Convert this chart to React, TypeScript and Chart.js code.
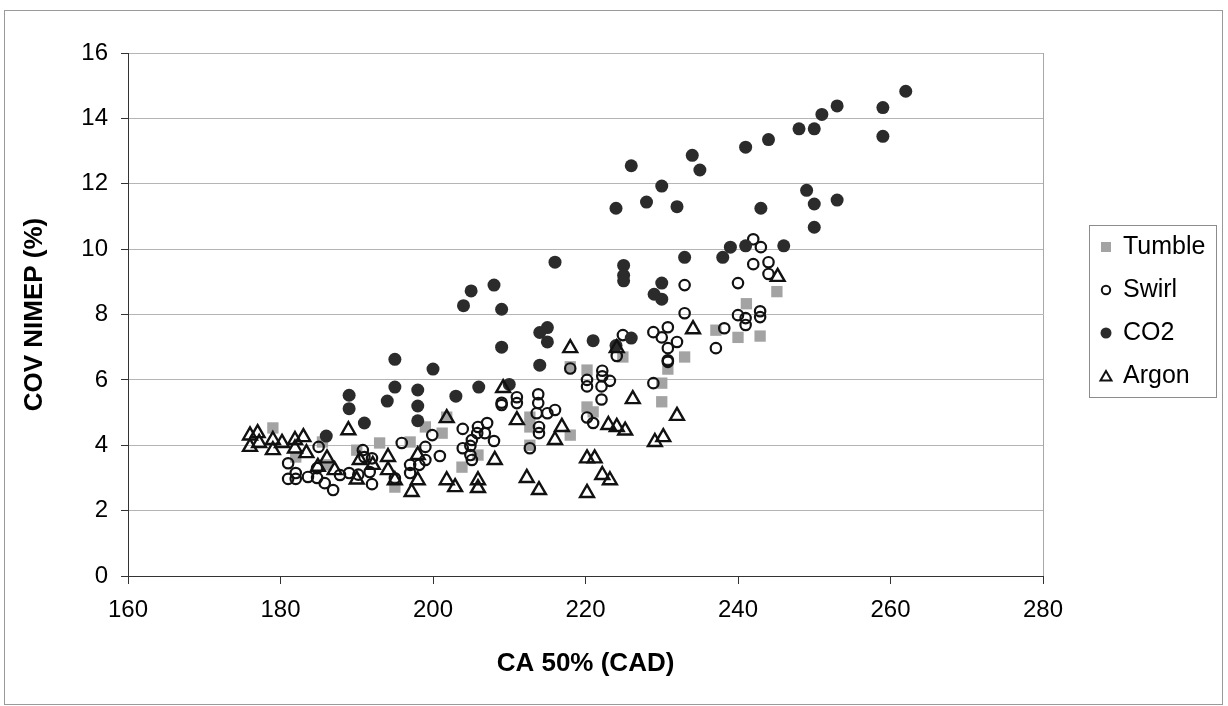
import React, { useEffect, useRef } from "react";
import { Chart, registerables } from "chart.js";

Chart.register(...registerables);

const FONT = '"Liberation Sans", Arial, sans-serif';

const seriesNames = ["Tumble", "Swirl", "CO2", "Argon"];
const xAxisTitle = "CA 50% (CAD)";
const yAxisTitle = "COV NIMEP (%)";
const xRange = [160, 280];
const yRange = [0, 16];
const xStep = 20;
const yStep = 2;

const tumbleX = [179, 182, 185.5, 186, 190, 193, 195, 197, 199, 201.2, 201.8, 203.8, 205.9, 212.7, 212.7, 212.7, 218, 218, 220.2, 220.2, 221, 224.9, 230, 230, 230.8, 233, 237.1, 240, 241.1, 242.9, 245.1];
const tumbleY = [4.53, 3.64, 4.1, 3.4, 3.85, 4.07, 2.72, 4.1, 4.56, 4.37, 4.86, 3.33, 3.7, 4.0, 4.56, 4.86, 4.31, 6.4, 6.3, 5.17, 5.02, 6.7, 5.33, 5.9, 6.33, 6.7, 7.52, 7.3, 8.33, 7.34, 8.7];

const swirlX = [181, 181, 182, 182, 183.6, 184.8, 184.8, 185, 185.8, 186.9, 187.8, 189, 190.2, 190.8, 191, 192, 191.7, 192, 195, 195.9, 197, 197, 198.2, 199, 199, 199.9, 200.9, 203.9, 203.9, 204.9, 205.1, 205.9, 205.8, 205.1, 207.1, 206.8, 208, 204.9, 209, 209, 211, 211, 212.7, 213.8, 213.8, 213.6, 213.9, 213.9, 215, 216, 218, 220.2, 220.2, 222.2, 222.2, 222.1, 223.2, 222.1, 220.2, 221, 224.1, 224.9, 228.9, 228.9, 230, 230.8, 232, 230.8, 230.8, 230.8, 233, 233, 237.1, 238.2, 240, 240, 241, 241, 242.9, 242.9, 242, 243, 242, 244, 244];
const swirlY = [3.45, 2.97, 2.97, 3.15, 3.03, 3.3, 3.0, 3.95, 2.84, 2.63, 3.09, 3.15, 3.1, 3.85, 3.64, 3.6, 3.18, 2.81, 2.99, 4.07, 3.4, 3.15, 3.4, 3.95, 3.55, 4.31, 3.67, 4.5, 3.91, 3.7, 3.55, 4.56, 4.37, 4.16, 4.68, 4.37, 4.13, 3.98, 5.23, 5.3, 5.47, 5.29, 3.91, 5.56, 5.29, 4.98, 4.56, 4.37, 4.98, 5.08, 6.35, 6.0, 5.8, 6.28, 6.11, 5.8, 5.97, 5.4, 4.85, 4.68, 6.73, 7.37, 7.46, 5.9, 7.3, 7.61, 7.16, 6.97, 6.6, 6.55, 8.9, 8.04, 6.97, 7.58, 8.96, 7.98, 7.89, 7.68, 8.1, 7.92, 10.3, 10.06, 9.54, 9.6, 9.24];

const co2X = [186, 189, 189, 191, 194, 195, 195, 198, 198, 198, 200, 203, 204, 205, 206, 208, 209, 209, 210, 214, 215, 214, 215, 216, 221, 224, 224, 225, 225, 225, 226, 226, 228, 229, 230, 230, 230, 232, 233, 234, 235, 238, 239, 241, 241, 243, 244, 246, 248, 249, 250, 250, 250, 251, 253, 253, 259, 259, 262];
const co2Y = [4.28, 5.53, 5.12, 4.68, 5.35, 6.63, 5.78, 5.69, 5.2, 4.75, 6.33, 5.5, 8.27, 8.72, 5.78, 8.9, 8.16, 7.0, 5.86, 7.45, 7.6, 6.45, 7.16, 9.6, 7.2, 7.05, 11.25, 9.5, 9.2, 9.03, 12.55, 7.28, 11.44, 8.62, 8.47, 8.96, 11.93, 11.3, 9.75, 12.87, 12.42, 9.75, 10.06, 10.1, 13.12, 11.25, 13.35, 10.1, 13.68, 11.8, 13.68, 11.38, 10.67, 14.12, 14.38, 11.5, 14.33, 13.45, 14.83];

const argonX = [176, 177, 176, 177.2, 179, 179, 180.2, 181.9, 183, 181.9, 183.4, 186.1, 184.9, 187.1, 188.9, 190.4, 190, 192.1, 194.1, 194.1, 195, 197.2, 198, 198, 201.8, 201.8, 202.9, 205.9, 205.9, 208.1, 209.2, 211, 212.3, 213.9, 216, 216.9, 218, 220.2, 221.2, 220.2, 222.2, 223.2, 223, 224.1, 225.2, 224.1, 226.2, 229.1, 230.2, 232, 234.1, 245.2];
const argonY = [4.3, 4.37, 3.95, 4.07, 4.16, 3.85, 4.07, 4.16, 4.25, 3.9, 3.76, 3.6, 3.34, 3.24, 4.46, 3.55, 2.95, 3.4, 3.64, 3.24, 2.93, 2.57, 3.7, 2.93, 4.83, 2.93, 2.72, 2.93, 2.69, 3.55, 5.75, 4.77, 3.0, 2.63, 4.16, 4.56, 6.97, 3.6, 3.6, 2.54, 3.09, 2.93, 4.62, 4.56, 4.45, 6.97, 5.41, 4.1, 4.25, 4.9, 7.55, 9.15];

const pts = (xs: number[], ys: number[]) => xs.map((x, i) => ({ x, y: ys[i] }));

const framePlugin = {
  id: "frame",
  beforeDraw(chart: any) {
    const ctx = chart.ctx;
    ctx.save();
    ctx.fillStyle = "#ffffff";
    ctx.fillRect(0, 0, chart.width, chart.height);
    ctx.restore();
  },
  beforeDatasetsDraw(chart: any) {
    const ctx = chart.ctx;
    const a = chart.chartArea;
    ctx.save();
    ctx.strokeStyle = "#a8a8a8";
    ctx.lineWidth = 1;
    ctx.beginPath();
    ctx.moveTo(Math.round(a.right) + 0.5, a.top);
    ctx.lineTo(Math.round(a.right) + 0.5, a.bottom);
    ctx.stroke();
    ctx.restore();
  },
  afterDraw(chart: any) {
    const ctx = chart.ctx;
    ctx.save();
    ctx.strokeStyle = "#9a9a9a";
    ctx.lineWidth = 1;
    ctx.strokeRect(4.5, 10.5, 1218, 694);
    const lx = 1089.5, ly = 225.5, lw = 127, lh = 172;
    ctx.strokeStyle = "#8c8c8c";
    ctx.strokeRect(lx, ly, lw, lh);
    const rows = [247, 290, 333, 376];
    const mx = 1106;
    ctx.font = `25px ${FONT}`;
    ctx.textBaseline = "middle";
    ctx.textAlign = "left";
    rows.forEach((ry, i) => {
      if (i === 0) {
        ctx.fillStyle = "#a3a3a3";
        ctx.fillRect(mx - 5, ry - 5, 10, 10);
      } else if (i === 1) {
        ctx.strokeStyle = "#111";
        ctx.lineWidth = 2;
        ctx.beginPath();
        ctx.arc(mx, ry, 4.2, 0, Math.PI * 2);
        ctx.stroke();
      } else if (i === 2) {
        ctx.fillStyle = "#2b2b2b";
        ctx.beginPath();
        ctx.arc(mx, ry, 5.5, 0, Math.PI * 2);
        ctx.fill();
      } else {
        ctx.strokeStyle = "#111";
        ctx.lineWidth = 2;
        ctx.beginPath();
        ctx.moveTo(mx, ry - 5);
        ctx.lineTo(mx + 5.5, ry + 4.5);
        ctx.lineTo(mx - 5.5, ry + 4.5);
        ctx.closePath();
        ctx.stroke();
      }
      ctx.fillStyle = "#000";
      ctx.fillText(seriesNames[i], 1123, ry);
    });
    ctx.restore();
  },
};

export default function App() {
  const ref = useRef<HTMLCanvasElement | null>(null);

  useEffect(() => {
    if (!ref.current) return;
    const chart = new Chart(ref.current, {
      type: "scatter",
      data: {
        datasets: [
          {
            label: seriesNames[0],
            data: pts(tumbleX, tumbleY),
            pointStyle: "rect",
            pointRadius: 8,
            backgroundColor: "#a3a3a3",
            borderColor: "#a3a3a3",
            borderWidth: 0,
            order: 4,
          },
          {
            label: seriesNames[1],
            data: pts(swirlX, swirlY),
            pointStyle: "circle",
            pointRadius: 5.2,
            backgroundColor: "rgba(0,0,0,0)",
            borderColor: "#111",
            borderWidth: 2.2,
            order: 3,
          },
          {
            label: seriesNames[2],
            data: pts(co2X, co2Y),
            pointStyle: "circle",
            pointRadius: 6.5,
            backgroundColor: "#2b2b2b",
            borderColor: "#2b2b2b",
            borderWidth: 0,
            order: 2,
          },
          {
            label: seriesNames[3],
            data: pts(argonX, argonY),
            pointStyle: "triangle",
            pointRadius: 8,
            backgroundColor: "rgba(0,0,0,0)",
            borderColor: "#111",
            borderWidth: 2.4,
            order: 1,
          },
        ],
      },
      options: {
        animation: false,
        responsive: false,
        devicePixelRatio: 1,
        layout: { padding: { left: 0, top: 53, right: 185, bottom: 0 } },
        plugins: {
          legend: { display: false },
          tooltip: { enabled: false },
        },
        scales: {
          x: {
            type: "linear",
            position: "bottom",
            min: xRange[0],
            max: xRange[1],
            ticks: {
              stepSize: xStep,
              color: "#000",
              font: { family: FONT, size: 24 },
              padding: 12,
            },
            grid: {
              drawOnChartArea: false,
              drawTicks: true,
              tickLength: 8,
              tickColor: "#333",
            },
            border: { display: true, color: "#333", width: 1 },
            title: {
              display: true,
              text: xAxisTitle,
              color: "#000",
              font: { family: FONT, size: 26, weight: "bold", lineHeight: 1.2 },
              padding: { top: 0, bottom: 27 },
            },
            afterFit: (s: any) => {
              s.height = 130;
            },
          },
          y: {
            type: "linear",
            min: yRange[0],
            max: yRange[1],
            ticks: {
              stepSize: yStep,
              color: "#000",
              font: { family: FONT, size: 24 },
              padding: 13,
            },
            grid: {
              color: "#b5b5b5",
              drawTicks: true,
              tickLength: 7,
              tickColor: "#333",
            },
            border: { display: true, color: "#333", width: 1 },
            title: {
              display: true,
              text: yAxisTitle,
              color: "#000",
              font: { family: FONT, size: 26, weight: "bold", lineHeight: 1.2 },
              padding: { top: 19, bottom: 0 },
            },
            afterFit: (s: any) => {
              s.width = 128;
            },
          },
        },
      },
      plugins: [framePlugin],
    } as any);
    return () => chart.destroy();
  }, []);

  return (
    <div style={{ position: "absolute", left: 0, top: 0, width: 1228, height: 706, background: "#fff" }}>
      <canvas ref={ref} width={1228} height={706} style={{ display: "block", width: 1228, height: 706 }} />
    </div>
  );
}
